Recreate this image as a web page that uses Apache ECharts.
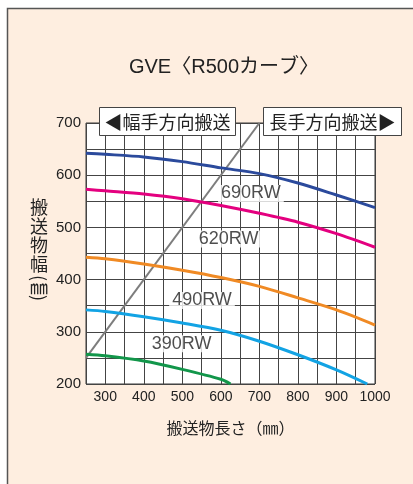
<!DOCTYPE html>
<html><head><meta charset="utf-8">
<script src="https://cdn.jsdelivr.net/npm/echarts@6/dist/echarts.min.js"></script>
<style>html,body{margin:0;padding:0;background:#fff}#c{width:413px;height:484px}</style>
</head><body><div id="c"></div>
<script>
// ---- texts ----
const titleText = 'GVE〈R500カーブ〉';
const xAxisName = '搬送物長さ（㎜）';
const yNameChars = ['搬', '送', '物', '幅'];
const leftBoxText = '◀幅手方向搬送';
const rightBoxText = '長手方向搬送▶';

// ---- axes ----
const xMin = 250, xMax = 1000, xStep = 50;
const yMin = 200, yMax = 700, yStep = 50;

// ---- data (length mm -> max width mm) ----
const len690 = [250, 300, 400, 500, 600, 700, 800, 900, 1000];
const wid690 = [642, 640, 635, 626, 614, 603, 585, 562, 538];
const len620 = [250, 300, 400, 500, 600, 700, 800, 900, 1000];
const wid620 = [573, 570, 564, 555, 542, 527, 510, 488, 462];
const len490 = [250, 300, 400, 500, 600, 700, 800, 900, 1000];
const wid490 = [443, 440, 430, 418, 404, 387, 365, 342, 313];
const len390 = [250, 300, 400, 500, 600, 700, 800, 900, 980];
const wid390 = [342, 339, 329, 317, 303, 282, 256, 227, 200];
const lenSmall = [250, 300, 400, 500, 600, 625];
const widSmall = [257, 254, 244, 228, 209, 200];
const diagLen = [250, 700];
const diagWid = [250, 700];

// curve labels
const curveNames = ['690RW', '620RW', '490RW', '390RW'];
const labelLen = [678, 620, 551, 498];
const labelWid = [565, 478, 360, 277];

const colors = ['#2B4A9C', '#E4007F', '#F08A24', '#12A3E4', '#12964A'];
const zip = (a, b) => a.map((v, i) => [v, b[i]]);

const curves = [
  [len690, wid690], [len620, wid620], [len490, wid490], [len390, wid390], [lenSmall, widSmall]
];

const series = [{
  type: 'line', data: zip(diagLen, diagWid), symbol: 'none', z: 1, silent: true,
  lineStyle: { color: '#7d7d7d', width: 2 }
}];
curves.forEach((c, i) => {
  series.push({
    type: 'line', data: zip(c[0], c[1]), smooth: 0.3, symbol: 'none', silent: true, z: 2,
    lineStyle: { color: colors[i], width: 3 }
  });
});
series.push({
  type: 'scatter', symbol: 'rect', symbolSize: 1, z: 5, silent: true,
  itemStyle: { color: 'rgba(0,0,0,0)' },
  data: curveNames.map((n, i) => ({ value: [labelLen[i], labelWid[i]], name: n })),
  label: {
    show: true, position: 'inside', formatter: p => p.name,
    fontFamily: '"Liberation Sans", Arial, sans-serif', fontSize: 18, color: '#222',
    backgroundColor: '#fff', padding: [1, 3, 0, 3], lineHeight: 16
  }
});

const cjk = '"Noto Sans CJK JP", sans-serif';
const graphics = [
  { type: 'rect', z: -10, silent: true, shape: { x: 7.5, y: 8.5, width: 430, height: 500 },
    style: { fill: '#FEEEE0', stroke: '#555', lineWidth: 1.5 } },
  { type: 'text', z: 100, x: 224, y: 67, silent: true,
    style: { text: titleText, font: '20px "Liberation Sans", "Noto Sans CJK JP", sans-serif', fill: '#222', textAlign: 'center', textVerticalAlign: 'middle' } },
  { type: 'rect', z: 100, silent: true, shape: { x: 99.5, y: 107.5, width: 136, height: 28 },
    style: { fill: '#fff', stroke: '#444', lineWidth: 1 } },
  { type: 'text', z: 101, x: 167.5, y: 122, silent: true,
    style: { text: leftBoxText, font: '18px ' + cjk, fill: '#222', textAlign: 'center', textVerticalAlign: 'middle' } },
  { type: 'rect', z: 100, silent: true, shape: { x: 263.5, y: 107.5, width: 138, height: 28 },
    style: { fill: '#fff', stroke: '#444', lineWidth: 1 } },
  { type: 'text', z: 101, x: 332.5, y: 122, silent: true,
    style: { text: rightBoxText, font: '18px ' + cjk, fill: '#222', textAlign: 'center', textVerticalAlign: 'middle' } }
];
yNameChars.forEach((ch, i) => {
  graphics.push({ type: 'text', z: 100, x: 39, y: 207 + i * 19, silent: true,
    style: { text: ch, font: '18px ' + cjk, fill: '#222', textAlign: 'center', textVerticalAlign: 'middle' } });
});
graphics.push({ type: 'text', z: 100, x: 39, y: 278, rotation: -Math.PI / 2, silent: true,
  style: { text: '(', font: '18px ' + cjk, fill: '#222', textAlign: 'center', textVerticalAlign: 'middle' } });
graphics.push({ type: 'text', z: 100, x: 39, y: 287.5, silent: true,
  style: { text: '㎜', font: '18px ' + cjk, fill: '#222', textAlign: 'center', textVerticalAlign: 'middle' } });
graphics.push({ type: 'text', z: 100, x: 39, y: 298, rotation: -Math.PI / 2, silent: true,
  style: { text: ')', font: '18px ' + cjk, fill: '#222', textAlign: 'center', textVerticalAlign: 'middle' } });

const chart = echarts.init(document.getElementById('c'), null, { renderer: 'canvas' });
chart.setOption({
  backgroundColor: '#fff',
  animation: false,
  graphic: graphics,
  grid: { left: 86, top: 123, width: 289, height: 261, show: true, backgroundColor: '#fff',
    borderColor: '#3a3a3a', borderWidth: 1, containLabel: false, outerBoundsMode: 'none' },
  xAxis: {
    type: 'value', min: xMin, max: xMax, interval: xStep,
    name: xAxisName, nameLocation: 'middle', nameGap: 36,
    nameTextStyle: { fontFamily: cjk, fontSize: 16, color: '#222' },
    axisLine: { show: false }, axisTick: { show: false },
    splitLine: { show: true, lineStyle: { color: '#444', width: 1 } },
    axisLabel: { formatter: v => (v % 100 === 0 ? String(v) : ''), fontFamily: '"Liberation Sans", Arial, sans-serif',
      fontSize: 14, color: '#222', margin: 6, showMinLabel: true, showMaxLabel: true, hideOverlap: false }
  },
  yAxis: {
    type: 'value', min: yMin, max: yMax, interval: yStep,
    axisLine: { show: false }, axisTick: { show: false },
    splitLine: { show: true, lineStyle: { color: '#444', width: 1 } },
    axisLabel: { formatter: v => (v % 100 === 0 ? String(v) : ''), fontFamily: '"Liberation Sans", Arial, sans-serif',
      fontSize: 15, color: '#222', margin: 5, showMinLabel: true, showMaxLabel: true, hideOverlap: false }
  },
  series: series
});
</script></body></html>
